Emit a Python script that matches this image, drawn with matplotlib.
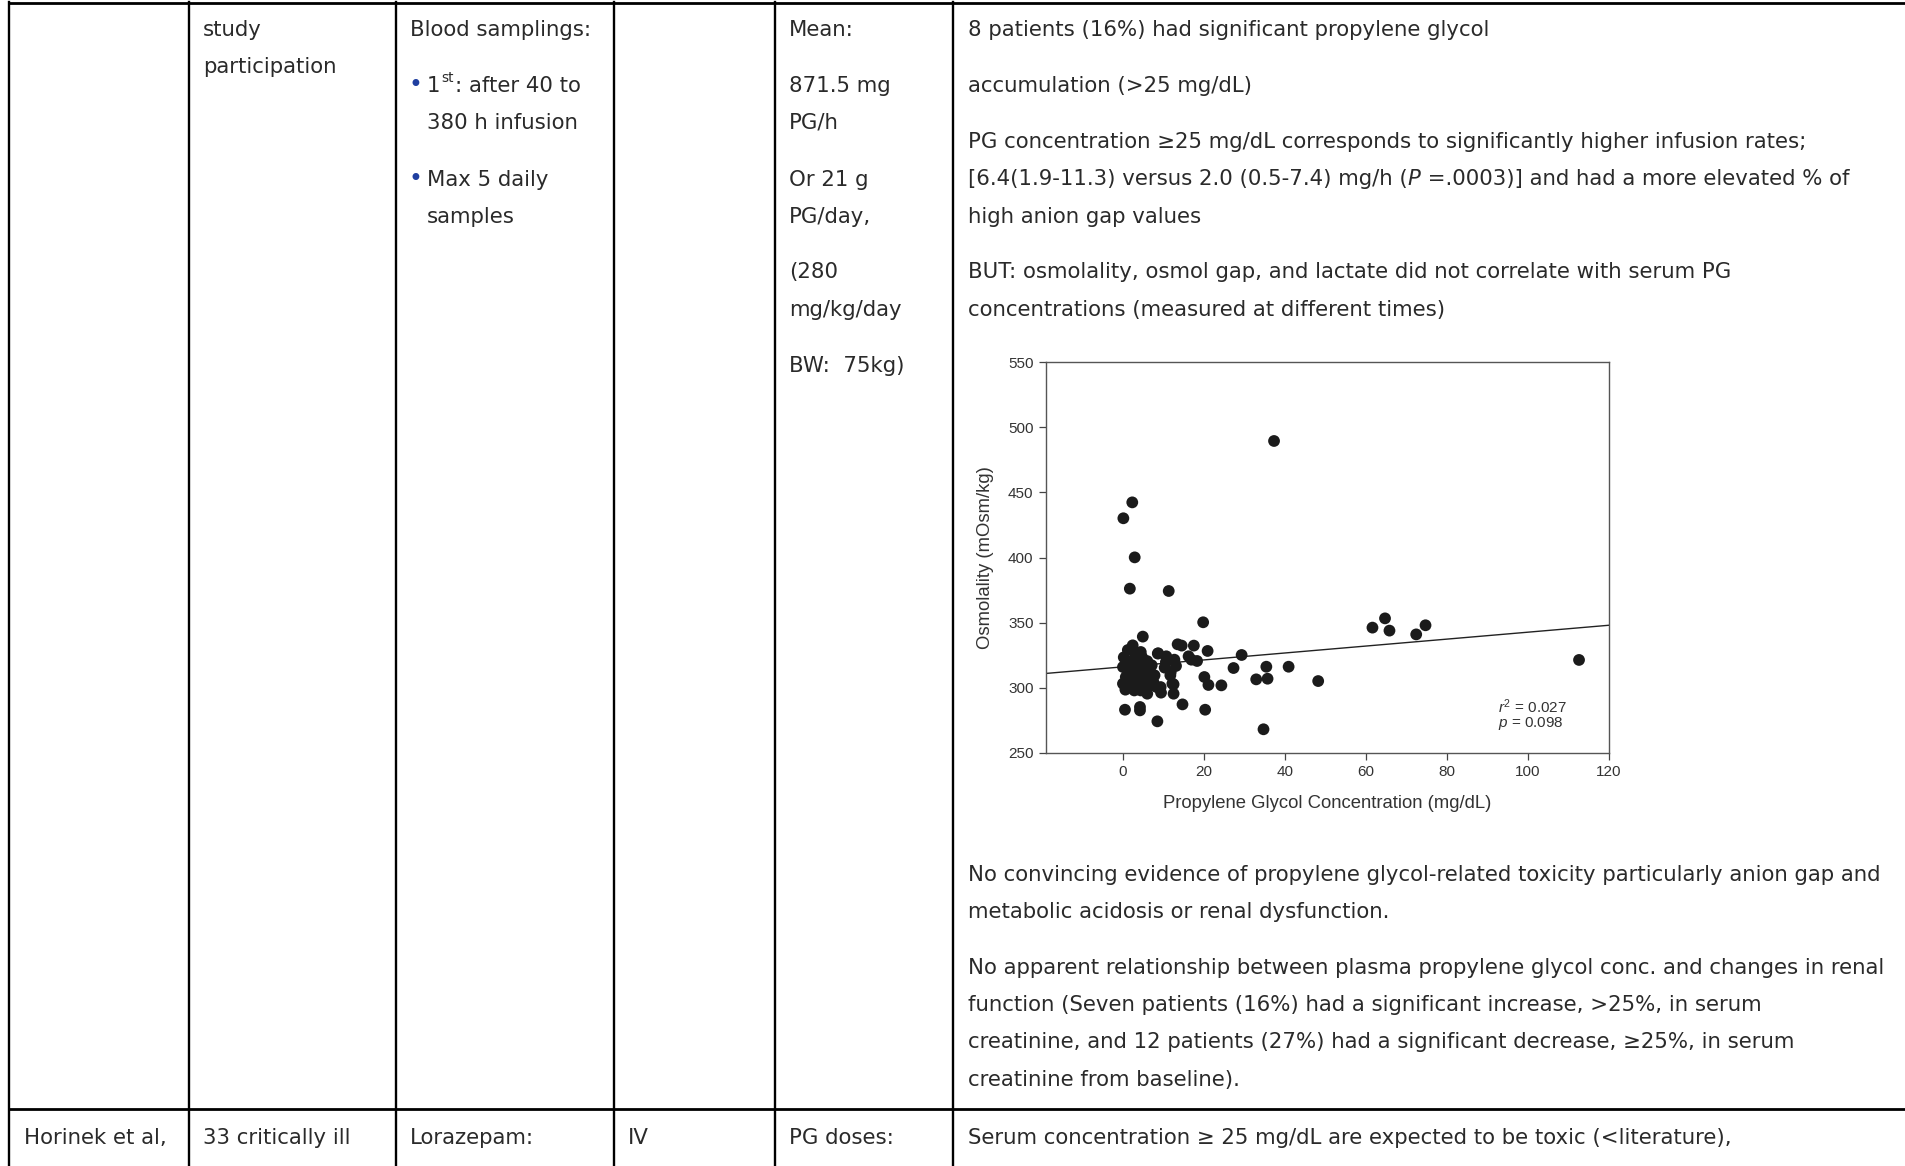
import matplotlib
matplotlib.use("Agg")
import matplotlib.pyplot as plt
from matplotlib.lines import Line2D
import numpy as np

plt.rcParams['mathtext.fontset'] = 'custom'
plt.rcParams['mathtext.rm'] = 'Liberation Sans'
plt.rcParams['mathtext.it'] = 'Liberation Sans:italic'

# ---------------- data ----------------
pg_conc = [37.3, 2.3, 0.1, 2.9, 1.7, 11.3, 19.8, 64.7, 61.6, 65.8, 72.4, 74.7, 112.6,
           4.9, 48.2, 40.9, 35.4, 35.7, 32.9, 27.3, 29.3, 24.3, 21.1, 20.1, 20.9,
           20.3, 34.7, 8.5, 14.7, 0.5, 4.2, 4.2, 17.5, 13.5, 14.5, 16.2, 18.3, 16.9,
           12.7, 12.5, 12.5, 11.8, 10.7, 8.7, 9.3, 9.4, 10.3, 2.4, 1.2, 0.2, 0.0,
           0.0, 0.6, 11.7, 13.1, 12.2, 6.0, 4.4, 10.6, 8.6,
           1.9, 2.8, 4.1, 4.7, 5.2, 5.7, 6.6, 7.1, 6.2, 6.8, 4.4, 3.1, 1.6, 2.6,
           3.6, 1.8, 1.0, 2.8, 3.6, 4.7, 5.2, 5.7, 4.2, 2.1, 0.7, 4.7, 7.8, 8.3,
           3.3, 1.3, 6.0, 7.5, 3.0, 5.5]
osmolality = [489.4, 442.3, 430.1, 400.1, 376.1, 374.3, 350.3, 353.3, 346.2, 343.9, 341.0, 348.0, 321.4,
              339.3, 305.2, 316.2, 316.2, 307.0, 306.5, 315.2, 325.2, 301.9, 302.2, 308.3, 328.3,
              283.2, 268.2, 274.3, 287.3, 283.2, 285.3, 282.7, 332.4, 333.4, 332.4, 324.2, 320.6, 321.6,
              321.6, 302.7, 295.5, 312.1, 324.2, 326.5, 300.6, 296.3, 315.5, 332.6, 329.0, 323.4, 316.0,
              303.2, 298.6, 309.6, 316.8, 303.2, 295.5, 327.5, 319.8, 326.3,
              300.6, 298.0, 326.7, 323.6, 321.0, 317.3, 313.4, 317.3, 305.8, 302.0, 298.0, 303.2, 310.9, 313.4,
              318.6, 319.8, 317.3, 322.4, 308.3, 310.9, 307.0, 310.9, 314.7, 305.8, 308.3, 303.2, 309.6, 300.6,
              327.0, 312.5, 320.5, 304.5, 310.0, 300.0]
fit_intercept = 316.1
fit_slope = 0.266
r_squared = "0.027"
p_value = "0.098"
x_ticks = [0, 20, 40, 60, 80, 100, 120]
y_ticks = [250, 300, 350, 400, 450, 500, 550]
x_limits = (-19, 120)
y_limits = (250, 550)
x_label = "Propylene Glycol Concentration (mg/dL)"
y_label = "Osmolality (mOsm/kg)"

col2_text = ["study", "participation"]
col3_head = "Blood samplings:"
col3_bullet1 = ["1", "st", ": after 40 to", "380 h infusion"]
col3_bullet2 = ["Max 5 daily", "samples"]
col5_text = ["Mean:", "871.5 mg", "PG/h", "Or 21 g", "PG/day,", "(280", "mg/kg/day", "BW:  75kg)"]
col6_top = ["8 patients (16%) had significant propylene glycol",
            "accumulation (>25 mg/dL)",
            "PG concentration \u226525 mg/dL corresponds to significantly higher infusion rates;",
            None,
            "high anion gap values",
            "BUT: osmolality, osmol gap, and lactate did not correlate with serum PG",
            "concentrations (measured at different times)"]
col6_line4 = ["[6.4(1.9-11.3) versus 2.0 (0.5-7.4) mg/h (", "P", " =.0003)] and had a more elevated % of"]
col6_bottom = ["No convincing evidence of propylene glycol-related toxicity particularly anion gap and",
               "metabolic acidosis or renal dysfunction.",
               "No apparent relationship between plasma propylene glycol conc. and changes in renal",
               "function (Seven patients (16%) had a significant increase, >25%, in serum",
               "creatinine, and 12 patients (27%) had a significant decrease, \u226525%, in serum",
               "creatinine from baseline)."]
next_row = ["Horinek et al,", "33 critically ill", "Lorazepam:", "IV", "PG doses:",
            "Serum concentration \u2265 25 mg/dL are expected to be toxic (<literature),"]

# ---------------- layout ----------------
W, H = 1906, 1166
fig = plt.figure(figsize=(W / 100, H / 100), dpi=100)
fig.patch.set_facecolor("white")
renderer = fig.canvas.get_renderer()

FS = 15.3
TC = "#2a2a2a"
FAM = "DejaVu Sans"


def fx(px):
    return px / W


def fy(py):
    return 1 - py / H


def txt(x, y, s, size=FS, color=TC, style="normal", dy=0):
    t = fig.text(fx(x), fy(y + dy), s, fontsize=size, color=color, family=FAM,
                 style=style, ha="left", va="center")
    return t


def right_px(t):
    return t.get_window_extent(renderer=renderer).x1


# table lines
LW = 1.7
vlines = [9, 189, 396, 614, 775, 953]
for v in vlines:
    fig.add_artist(Line2D([fx(v), fx(v)], [fy(2), fy(H + 5)], color="black", lw=LW))
for hy in [3, 1109]:
    fig.add_artist(Line2D([fx(9), fx(W + 5)], [fy(hy), fy(hy)], color="black", lw=LW + 0.3))

# column 2
txt(203, 30, col2_text[0])
txt(203, 67, col2_text[1])

# column 3
txt(410, 30, col3_head)
BC = "#1f3fa0"
txt(409, 85, "\u2022", size=17, color=BC)
t = txt(427, 86, col3_bullet1[0])
t = txt(right_px(t) + 1, 78, col3_bullet1[1], size=9.8)
txt(right_px(t) + 1, 86, col3_bullet1[2])
txt(427, 123, col3_bullet1[3])
txt(409, 179, "\u2022", size=17, color=BC)
txt(427, 180, col3_bullet2[0])
txt(427, 217, col3_bullet2[1])

# column 5
ys5 = [30, 86, 123, 180, 217, 272, 310, 366]
for yy, s in zip(ys5, col5_text):
    txt(789, yy, s)

# column 6 top
ys6 = [30, 86, 142, 179, 217, 272, 310]
for yy, s in zip(ys6, col6_top):
    if s is None:
        t = txt(968, yy, col6_line4[0])
        t = txt(right_px(t), yy, col6_line4[1], style="italic")
        txt(right_px(t), yy, col6_line4[2])
    else:
        txt(968, yy, s)

# column 6 below chart
ys6b = [875, 912, 968, 1005, 1042, 1080]
for yy, s in zip(ys6b, col6_bottom):
    txt(968, yy, s)

# next row
xs_row = [24, 203, 410, 628, 789, 968]
for xx, s in zip(xs_row, next_row):
    txt(xx, 1138, s)

# ---------------- scatter chart ----------------
ax = fig.add_axes([fx(1046), fy(753), (1609 - 1046) / W, (753 - 362) / H])
ax.set_facecolor("white")
ax.scatter(pg_conc, osmolality, s=72, c="#1b1b1b", edgecolors="none", zorder=3)
ax.set_xlim(*x_limits)
ax.set_ylim(*y_limits)
xl = np.array(x_limits, dtype=float)
ax.plot(xl, fit_intercept + fit_slope * xl, color="#222222", lw=1.0, zorder=2)

ax.set_xticks(x_ticks, labels=[str(v) for v in x_ticks], fontfamily="Liberation Sans")
ax.set_yticks(y_ticks, labels=[str(v) for v in y_ticks], fontfamily="Liberation Sans")
ax.tick_params(direction="out", length=5, width=0.9, color="#444444",
               labelsize=11, labelcolor="#333333", pad=4)
for sp in ax.spines.values():
    sp.set_color("#555555")
    sp.set_linewidth(1.0)
ax.set_xlabel(x_label, fontsize=13.3, family="Liberation Sans", color="#333333", labelpad=11)
ax.set_ylabel(y_label, fontsize=13.3, family="Liberation Sans", color="#333333", labelpad=10)

fig.text(fx(1498), fy(707), "$r^2$ = " + r_squared, fontsize=11, family="Liberation Sans",
         color="#333333", ha="left", va="center")
fig.text(fx(1498), fy(724), "$p$ = " + p_value, fontsize=11, family="Liberation Sans",
         color="#333333", ha="left", va="center")

fig.savefig("out.png", dpi=100, facecolor="white")
